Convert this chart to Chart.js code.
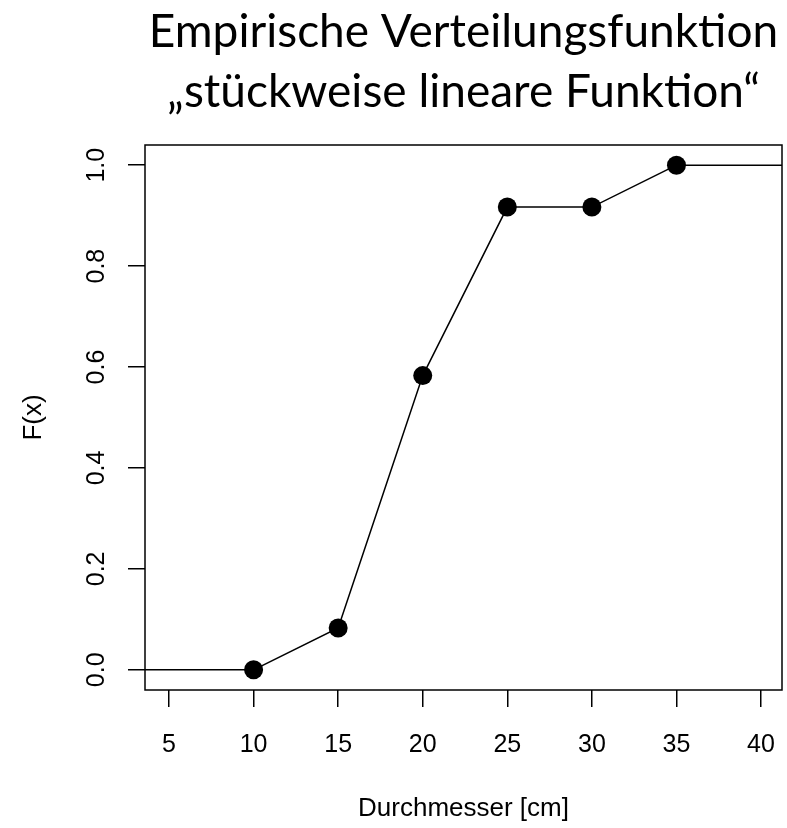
<!DOCTYPE html>
<html>
<head>
<meta charset="utf-8">
<script src="https://cdn.jsdelivr.net/npm/chart.js@4"></script>
<style>
  html,body{margin:0;padding:0;background:#fff;}
  #wrap{width:787px;height:828px;}
</style>
</head>
<body>
<div id="wrap"><canvas id="ecdf" width="787" height="828"></canvas></div>
<script>
/* ---------------- data ---------------- */
const titleLines = ['Empirische Verteilungsfunktion', '\u201Est\u00FCckweise lineare Funktion\u201C'];
const xLabel = 'Durchmesser [cm]';
const yLabel = 'F(x)';

const xVals = [10, 15, 20, 25, 30, 35];
const yVals = [0, 0.083, 0.583, 0.917, 0.917, 1.0];

const xMin = 3.58, xMax = 41.24, xStep = 5;
const yMin = -0.04, yMax = 1.04, yStep = 0.2;

/* ---------------- helpers ---------------- */
const pts = xVals.map((x, i) => ({x, y: yVals[i]}));
const first = pts[0], last = pts[pts.length - 1];
const axisFont = {family: 'Liberation Sans', size: 25};

// box round the plot area
const boxPlugin = {
  id: 'box',
  afterDatasetsDraw(chart){
    const {ctx, chartArea: a} = chart;
    ctx.save();
    ctx.strokeStyle = '#000';
    ctx.lineWidth = 1.5;
    ctx.strokeRect(a.left, a.top, a.right - a.left, a.bottom - a.top);
    ctx.restore();
  }
};

const lineStyle = {borderColor: '#000', borderWidth: 1.5, showLine: true, pointRadius: 0};

new Chart(document.getElementById('ecdf'), {
  type: 'scatter',
  data: {
    datasets: [
      {...lineStyle, data: [{x: xMin - 5, y: first.y}, {x: first.x, y: first.y}]},
      {...lineStyle, data: [{x: last.x, y: last.y}, {x: xMax + 5, y: last.y}]},
      {...lineStyle, data: pts, pointRadius: 9.5, pointBackgroundColor: '#000', pointBorderWidth: 0}
    ]
  },
  options: {
    responsive: false,
    animation: false,
    events: [],
    layout: {autoPadding: false, padding: {left: 0, right: 5, top: 0, bottom: 0}},
    plugins: {
      legend: {display: false},
      tooltip: {enabled: false},
      title: {
        display: true,
        text: titleLines,
        fullSize: false,
        color: '#000',
        font: {family: 'Lato', size: 46, weight: 'normal', lineHeight: 60 / 46},
        padding: {top: 2, bottom: 23}
      }
    },
    scales: {
      x: {
        type: 'linear', min: xMin, max: xMax,
        afterFit: s => { s.height = 138; s.paddingLeft = 0; s.paddingRight = 0; },
        border: {display: false},
        grid: {drawOnChartArea: false, drawTicks: true, tickLength: 17, color: '#000', lineWidth: 1.5},
        ticks: {stepSize: xStep, includeBounds: false, color: '#000', font: axisFont, padding: 23, maxRotation: 0},
        title: {display: true, text: xLabel, color: '#000', font: {family: 'Liberation Sans', size: 26}, padding: {top: 0, bottom: 4}}
      },
      y: {
        type: 'linear', min: yMin, max: yMax,
        afterFit: s => { s.width = 145; s.paddingTop = 0; s.paddingBottom = 0; },
        border: {display: false},
        grid: {drawOnChartArea: false, drawTicks: true, tickLength: 17, color: '#000', lineWidth: 1.5},
        ticks: {
          stepSize: yStep, includeBounds: false, color: '#000', font: axisFont,
          padding: 14, minRotation: 90, maxRotation: 90, crossAlign: 'center',
          callback: v => v.toFixed(1)
        },
        title: {display: true, text: yLabel, color: '#000', font: {family: 'Liberation Sans', size: 26}, padding: {top: 18, bottom: 0}}
      }
    }
  },
  plugins: [boxPlugin]
});
</script>
</body>
</html>
